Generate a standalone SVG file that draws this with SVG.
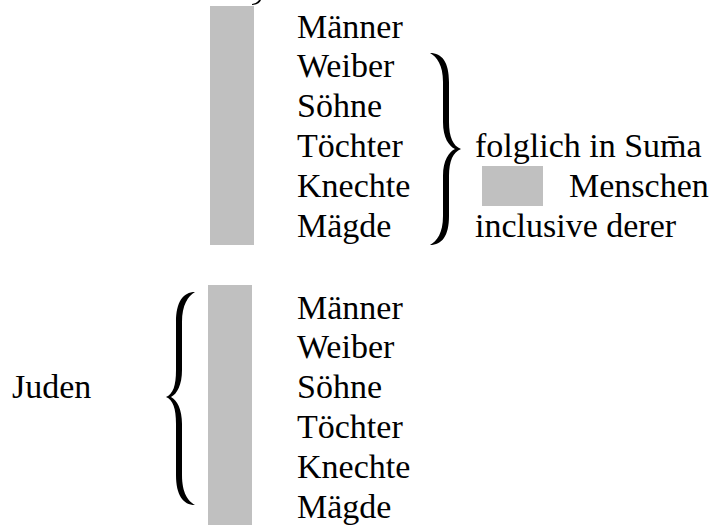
<svg xmlns="http://www.w3.org/2000/svg" width="715" height="525" viewBox="0 0 715 525">
  <style>
    text { font-family: "Liberation Serif", "Times New Roman", serif; font-size: 34px; fill: #000; }
    .blank { fill: #C0C0C0; }
    .brace { fill: #000; }
  </style>
  <rect width="715" height="525" fill="#fff"/>
  <path class="brace" d="M252,4 C255,3.5 258,2 259,0 L261,0 C260,3 256,5 252,5 Z"/>
  <g id="top-group">
    <rect class="blank" x="210" y="6" width="44" height="239"/>
    <text x="297" y="37.5">Männer</text>
    <text x="297" y="77.3">Weiber</text>
    <text x="297" y="117.1">Söhne</text>
    <text x="297" y="156.9">Töchter</text>
    <text x="297" y="196.7">Knechte</text>
    <text x="297" y="236.5">Mägde</text>
  </g>
  <g id="right-brace">
    <path class="brace" d="M430,53 C442,53 449,62 449,82 L449,122 C449,137 453,146 461,149 C453,152 449,161 449,176 L449,216 C449,236 442,245 430,245 C437,241 443,233 443,216 L443,176 C443,160 449,152 455,149 C449,146 443,138 443,122 L443,82 C443,65 437,57 430,53 Z"/>
  </g>
  <g id="summary">
    <text x="475" y="156.9">folglich in Sum̄a</text>
    <rect class="blank" x="482" y="166" width="61" height="40"/>
    <text x="569" y="196.7">Menschen</text>
    <text x="475" y="236.5">inclusive derer</text>
  </g>
  <g id="juden">
    <text x="12" y="398">Juden</text>
  </g>
  <g id="left-brace">
    <path class="brace" d="M195,292 C183,292 176,302 176,322 L176,370 C176,386 173,394 166,397 C173,400 176,408 176,424 L176,475 C176,495 183,505 195,505 C188,501 182,493 182,475 L182,424 C182,409 177,400 171,397 C177,394 182,385 182,370 L182,322 C182,305 188,296 195,292 Z"/>
  </g>
  <g id="bottom-group">
    <rect class="blank" x="208" y="285" width="44" height="240"/>
    <text x="297" y="318.5">Männer</text>
    <text x="297" y="358.3">Weiber</text>
    <text x="297" y="398.1">Söhne</text>
    <text x="297" y="437.9">Töchter</text>
    <text x="297" y="477.7">Knechte</text>
    <text x="297" y="517.5">Mägde</text>
  </g>
</svg>
